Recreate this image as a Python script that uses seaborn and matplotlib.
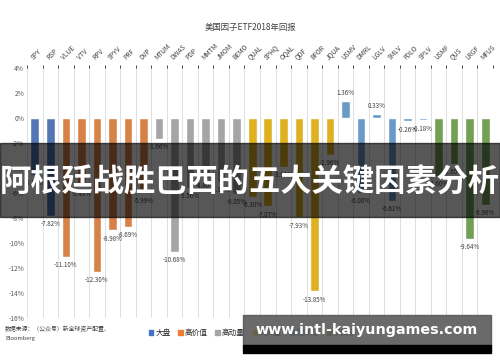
import matplotlib
matplotlib.use("Agg")
import matplotlib.pyplot as plt
from matplotlib.patches import Rectangle, Patch
import seaborn as sns
import pandas as pd
import numpy as np

# ETF tickers, factor groups and 2018 returns (%)
tickers = ["SPY", "RSP", "VLUE", "VTV", "RPV", "SPYV", "PRF", "DVP",
           "MTUM", "DWAS", "PDP", "MMTM", "JMOM", "BEMO",
           "QUAL", "SPHQ", "OQAL", "QDF", "BFOR", "JQUA",
           "USMV", "DMRL", "LGLV", "SMLV", "FDLO", "SPLV",
           "USMF", "QUS", "LRGF", "MFUS"]
groups = (["大盘"] * 2 + ["高价值"] * 6 + ["高动量"] * 6 + ["高质量"] * 6
          + ["低波动"] * 6 + ["多因子"] * 4)
returns = [-4.56, -7.82, -11.10, -5.43, -12.30, -8.98, -8.69, -5.99,
           -1.66, -10.68, -5.56, -4.80, -5.12, -6.05,
           -6.30, -7.07, -3.91, -7.93, -13.85, -2.96,
           1.36, -6.00, 0.33, -6.61, -0.26, -0.18,
           -4.60, -3.65, -9.64, -6.96]
group_names = ["大盘", "高价值", "高动量", "高质量", "低波动", "多因子"]
group_colors = ["#4472C4", "#ED7D31", "#A5A5A5", "#FFC000", "#5B9BD5", "#70AD47"]
y_ticks = list(range(-16, 5, 2))

df = pd.DataFrame({"ticker": tickers, "group": groups, "ret": returns})

sns.set_style("white")
plt.rcParams["font.family"] = ["Noto Sans CJK SC", "DejaVu Sans"]

fig = plt.figure(figsize=(5, 3.62), dpi=100)
ax = fig.add_axes([0.054, 0.1215, 0.932, 0.6905])

sns.barplot(data=df, x="ticker", y="ret", hue="group", dodge=False,
            palette=dict(zip(group_names, group_colors)), hue_order=group_names,
            width=0.55, legend=False, ax=ax)

ax.set_ylim(-16, 4)
ax.set_xlim(-0.5, len(tickers) - 0.5)
ax.set_yticks(y_ticks)
ax.set_yticklabels(["%d%%" % v for v in y_ticks], fontsize=4.8, color="#595959")
ax.set_xlabel("")
ax.set_ylabel("")

# category labels at the top, slanted
ax.xaxis.tick_top()
ax.set_xticks(range(len(tickers)))
ax.set_xticklabels(tickers, rotation=45, ha="left", va="bottom",
                   rotation_mode="anchor", fontsize=4.8, color="#404040")
ax.tick_params(axis="x", length=0, pad=5)
ax.tick_params(axis="y", length=0, pad=2)

# vertical gridlines between categories
ax.set_xticks(np.arange(-0.5, len(tickers), 1), minor=True)
ax.grid(False)
ax.grid(axis="x", which="minor", color="#D9D9D9", lw=0.6)
ax.set_axisbelow(True)
for s in ax.spines.values():
    s.set_visible(False)

# data labels
for i, v in enumerate(returns):
    off = 0.35 if v >= 0 else -0.35
    ax.text(i, v + off, "%.2f%%" % v, ha="center",
            va="bottom" if v >= 0 else "top", fontsize=4.5, color="#404040")

fig.text(0.5, 0.925, "美国因子ETF2018年回报", ha="center", va="center",
         fontsize=6, color="#404040")
fig.text(0.01, 0.093, "数据来源：（公众号）新全球资产配置、", fontsize=4.2,
         color="#404040", va="center")
fig.text(0.01, 0.066, "Bloomberg", fontsize=4.2, color="#404040", va="center")

handles = [Patch(color=c, label=n) for n, c in zip(group_names, group_colors)]
fig.legend(handles=handles, loc="center", bbox_to_anchor=(0.505, 0.08), ncol=6,
           frameon=False, fontsize=5.5, handlelength=0.55, handleheight=0.55,
           handletextpad=0.3, columnspacing=1.0)

# overlay bands
fig.add_artist(Rectangle((0, 0.4006), 1, 0.2044, transform=fig.transFigure,
                         color="black", alpha=0.66, zorder=10))
fig.text(0.5, 0.495, "阿根廷战胜巴西的五大关键因素分析", ha="center", va="center",
         fontsize=22.5, fontweight="bold", color="white", zorder=11)
fig.add_artist(Rectangle((0.486, 0.047), 0.496, 0.083, transform=fig.transFigure,
                         color="#555555", alpha=0.88, zorder=10))
fig.add_artist(Rectangle((0.486, 0.025), 0.496, 0.022, transform=fig.transFigure,
                         color="black", zorder=10))
fig.text(0.733, 0.088, "www.intl-kaiyungames.com", ha="center", va="center",
         fontsize=10.3, fontweight="bold", color="white", family="DejaVu Sans", zorder=11)

fig.savefig("out.png", dpi=100)
